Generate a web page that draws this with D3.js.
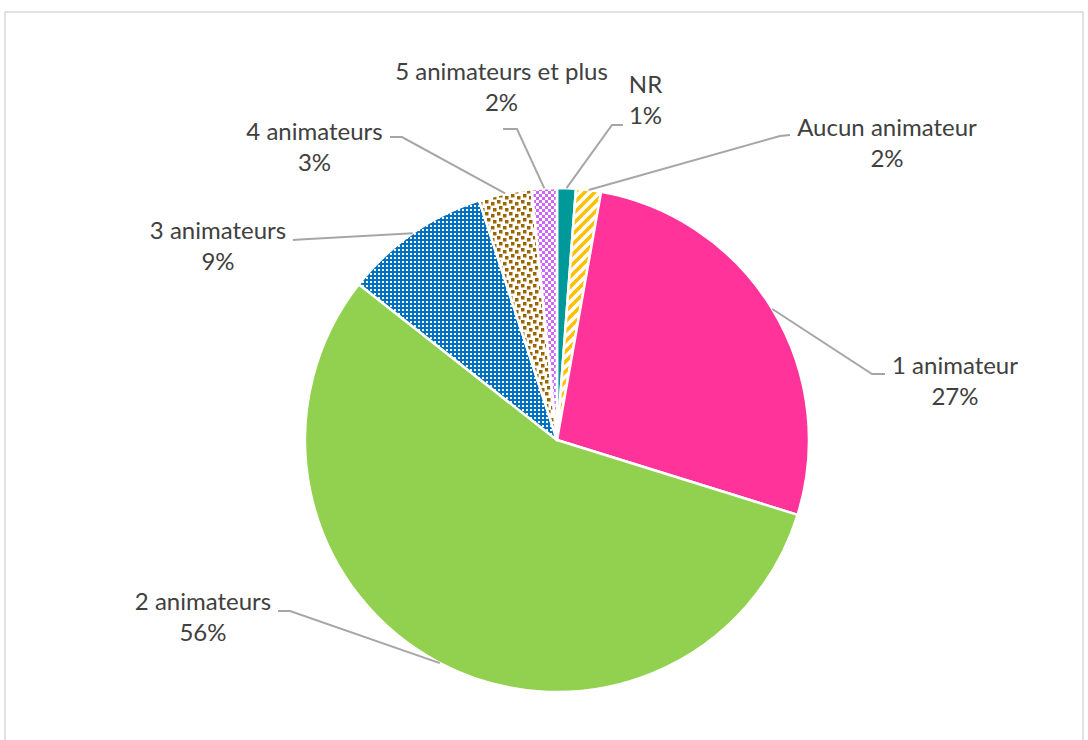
<!DOCTYPE html>
<html>
<head>
<meta charset="utf-8">
<script src="https://cdn.jsdelivr.net/npm/d3@7"></script>
<style>
  html, body { margin: 0; padding: 0; background: #ffffff; }
  svg { display: block; }
</style>
</head>
<body>
<svg id="chart" width="1088" height="740"></svg>
<script>
// ---- data (clockwise from 12 o'clock) ----
const categories = ["NR", "Aucun animateur", "1 animateur", "2 animateurs", "3 animateurs", "4 animateurs", "5 animateurs et plus"];
const values = [1.2, 1.6, 27.0, 55.8, 9.4, 3.4, 1.6];
const percentLabels = ["1%", "2%", "27%", "56%", "9%", "3%", "2%"];

// ---- layout (label anchor, elbow of leader line) ----
const labelLayout = [
  { x: 645.5, y: 93,  ax: 623, ay: 125, ex: 612, ey: 125 },
  { x: 887,   y: 136, ax: 790, ay: 135, ex: 780, ey: 136 },
  { x: 955,   y: 374, ax: 885, ay: 374, ex: 872, ey: 374 },
  { x: 203,   y: 610, ax: 278, ay: 611, ex: 290, ey: 611 },
  { x: 218,   y: 239, ax: 293, ay: 240, ex: 300, ey: 239.5 },
  { x: 314.5, y: 140, ax: 390, ay: 137, ex: 402, ey: 137 },
  { x: 501.5, y: 80,  ax: 503, ay: 129, ex: 517, ey: 129 }
];
const fills = ["#009999", "url(#pAucun)", "#FF3399", "#92D050", "url(#p3)", "url(#p4)", "url(#p5)"];

const svg = d3.select("#chart");
const cx = 557, cy = 440, R = 252;

// frame
svg.append("rect").attr("x", 5).attr("y", 12).attr("width", 1078).attr("height", 740)
  .attr("fill", "#fff").attr("stroke", "#D9D9D9").attr("stroke-width", 1.5);

// patterns
const defs = svg.append("defs");
// wide upward diagonal, yellow
const pa = defs.append("pattern").attr("id", "pAucun").attr("patternUnits", "userSpaceOnUse")
  .attr("width", 10).attr("height", 10);
pa.append("rect").attr("width", 10).attr("height", 10).attr("fill", "#fff");
pa.append("path").attr("d", "M-2.5,2.5 L2.5,-2.5 M0,10 L10,0 M7.5,12.5 L12.5,7.5")
  .attr("stroke", "#FFC000").attr("stroke-width", 3.6);
// blue net
const p3 = defs.append("pattern").attr("id", "p3").attr("patternUnits", "userSpaceOnUse")
  .attr("width", 4).attr("height", 4);
p3.append("rect").attr("width", 4).attr("height", 4).attr("fill", "#0070C0");
p3.append("rect").attr("x", 1).attr("y", 1).attr("width", 2).attr("height", 2).attr("fill", "#fff");
// brown confetti
const p4 = defs.append("pattern").attr("id", "p4").attr("patternUnits", "userSpaceOnUse")
  .attr("width", 12).attr("height", 12);
p4.append("rect").attr("width", 12).attr("height", 12).attr("fill", "#fff");
[[0,0],[6,2],[2,6],[8,8]].forEach(([x,y]) =>
  p4.append("rect").attr("x", x).attr("y", y).attr("width", 3.5).attr("height", 3.5).attr("fill", "#9C6500"));
// violet checkerboard
const p5 = defs.append("pattern").attr("id", "p5").attr("patternUnits", "userSpaceOnUse")
  .attr("width", 6).attr("height", 6);
p5.append("rect").attr("width", 6).attr("height", 6).attr("fill", "#fff");
p5.append("rect").attr("x", 0).attr("y", 0).attr("width", 3).attr("height", 3).attr("fill", "#CC66FF");
p5.append("rect").attr("x", 3).attr("y", 3).attr("width", 3).attr("height", 3).attr("fill", "#CC66FF");

const pie = d3.pie().sort(null).value(d => d).startAngle(0).endAngle(2 * Math.PI);
const arcs = pie(values);
const arc = d3.arc().innerRadius(0).outerRadius(R);

const g = svg.append("g").attr("transform", `translate(${cx},${cy})`);
g.selectAll("path.slice").data(arcs).join("path")
  .attr("class", "slice")
  .attr("d", arc)
  .attr("fill", (d, i) => fills[i])
  .attr("stroke", "#fff")
  .attr("stroke-width", 2.5)
  .attr("stroke-linejoin", "round");

// leader lines
svg.selectAll("polyline.leader").data(arcs).join("polyline")
  .attr("class", "leader")
  .attr("points", (d, i) => {
    const a = (d.startAngle + d.endAngle) / 2;
    const px = cx + R * Math.sin(a), py = cy - R * Math.cos(a);
    const L = labelLayout[i];
    return `${L.ax},${L.ay} ${L.ex},${L.ey} ${px},${py}`;
  })
  .attr("fill", "none").attr("stroke", "#A6A6A6").attr("stroke-width", 2);

// labels
const lab = svg.selectAll("text.lab").data(categories).join("text")
  .attr("class", "lab")
  .attr("text-anchor", "middle")
  .attr("font-family", "Lato, 'Liberation Sans', sans-serif")
  .attr("font-size", 24)
  .attr("fill", "#404040");
lab.append("tspan").attr("x", (d, i) => labelLayout[i].x).attr("y", (d, i) => labelLayout[i].y).text(d => d);
lab.append("tspan").attr("x", (d, i) => labelLayout[i].x).attr("dy", 31).text((d, i) => percentLabels[i]);
</script>
</body>
</html>
